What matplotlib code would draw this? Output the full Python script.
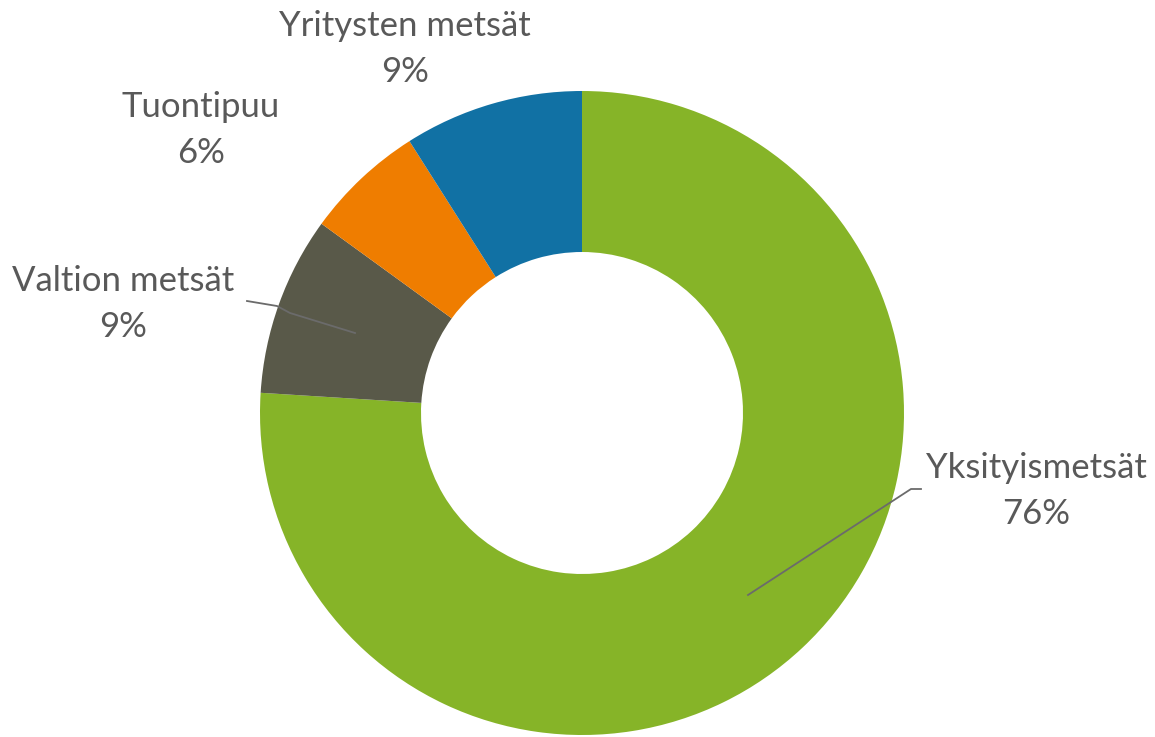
import matplotlib
matplotlib.use('Agg')
import matplotlib.pyplot as plt

# Data
labels = ['Yksityismetsät', 'Valtion metsät', 'Tuontipuu', 'Yritysten metsät']
shares = [76, 9, 6, 9]
colors = ['#86B428', '#595949', '#EF7D00', '#1171A4']

W, H = 1155, 737
plt.rcParams['font.family'] = ['Lato', 'DejaVu Sans']

fig = plt.figure(figsize=(W / 100, H / 100), dpi=100)
ax = fig.add_axes([0, 0, 1, 1])

cx, cy, r = 582, H - 413, 322
ax.pie(shares, colors=colors, startangle=90, counterclock=False,
       center=(cx, cy), radius=r,
       wedgeprops=dict(width=r * 0.5, edgecolor='none'))
ax.set_xlim(0, W)
ax.set_ylim(0, H)
ax.set_aspect('equal')
ax.axis('off')

# label positions in pixels (x, y of block center)
label_pos = [(1036, 491), (123, 304), (201, 130), (405, 49)]
for lab, val, (x, y) in zip(labels, shares, label_pos):
    ax.text(x, H - y, f'{lab}\n{val}%', ha='center', va='center',
            fontsize=25, color='#595959', linespacing=1.55)

# leader lines
ax.plot([748, 911, 921], [H - 595, H - 489, H - 489], color='#6b6b6b', lw=1.3)
ax.plot([355, 290, 277, 247], [H - 333, H - 313, H - 306, H - 301], color='#6b6b6b', lw=1.3)

fig.savefig('out.png', dpi=100)
